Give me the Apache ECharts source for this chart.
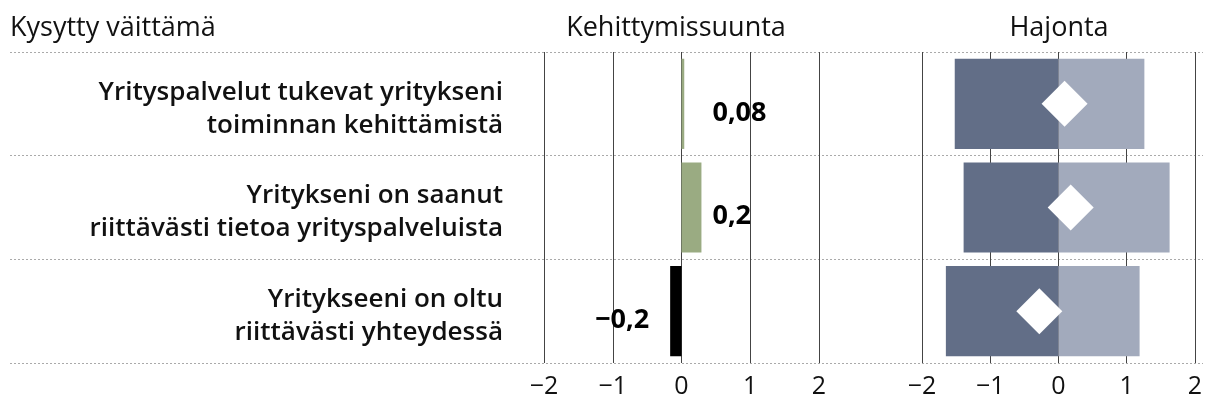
<!DOCTYPE html>
<html>
<head>
<meta charset="utf-8">
<script src="https://cdn.jsdelivr.net/npm/echarts@6/dist/echarts.min.js"></script>
<style>
  html, body { margin: 0; padding: 0; background: #fff; }
  #chart { width: 1205px; height: 406px; }
</style>
</head>
<body>
<div id="chart"></div>
<script>
    var categories = [
        "Yrityspalvelut tukevat yritykseni\ntoiminnan kehittämistä",
        "Yritykseni on saanut\nriittävästi tietoa yrityspalveluista",
        "Yritykseeni on oltu\nriittävästi yhteydessä"
    ];
    // kehittymissuunta (bar lengths as drawn) and printed labels
    var trendValues = [0.04, 0.29, -0.165];
    var trendLabels = ["0,08", "0,2", "−0,2"];
    // hajonta: low end, high end, diamond (mean)
    var spreadLow = [-1.52, -1.39, -1.65];
    var spreadHigh = [1.26, 1.63, 1.19];
    var spreadMean = [0.09, 0.18, -0.28];
    var tickMin = -2, tickMax = 2, tickStep = 1;

    var font = "Open Sans";
    var minus = function (v) { return String(v).replace("-", "−"); };

    var chart = echarts.init(document.getElementById("chart"));

    var valueAxis = function (gridIndex) {
        return {
            gridIndex: gridIndex,
            type: "value",
            min: tickMin,
            max: tickMax,
            interval: tickStep,
            axisLine: { show: false },
            axisTick: { show: false },
            axisLabel: {
                margin: 11,
                fontFamily: font,
                fontSize: 25,
                color: "#111",
                formatter: minus
            },
            splitLine: { show: true, lineStyle: { color: "#444", width: 1 } }
        };
    };

    var option = {
        animation: false,
        backgroundColor: "#fff",
        grid: [
            { left: 544, width: 275, top: 52, height: 311 },
            { left: 922, width: 275, top: 52, height: 311 },
            { left: 10, right: 2, top: 52, height: 311 },
            // label column, nudged down a little
            { left: 544, width: 1, top: 57, height: 311 }
        ],
        xAxis: [
            valueAxis(0),
            valueAxis(1),
            { gridIndex: 2, type: "value", show: false },
            { gridIndex: 3, type: "value", show: false }
        ],
        yAxis: [
            {
                gridIndex: 0,
                type: "category",
                inverse: true,
                data: categories,
                show: false
            },
            {
                gridIndex: 1,
                type: "category",
                inverse: true,
                data: categories,
                show: false
            },
            {
                gridIndex: 2,
                type: "category",
                inverse: true,
                data: categories,
                axisLine: { show: false },
                axisTick: { show: false },
                axisLabel: { show: false },
                splitLine: {
                    show: true,
                    lineStyle: { color: "#aaa", width: 1, type: [2, 2] }
                }
            },
            {
                gridIndex: 3,
                type: "category",
                inverse: true,
                data: categories,
                axisLine: { show: false },
                axisTick: { show: false },
                splitLine: { show: false },
                axisLabel: {
                    margin: 41,
                    fontFamily: font,
                    fontWeight: 600,
                    fontSize: 26,
                    lineHeight: 33,
                    color: "#111",
                    align: "right"
                }
            }
        ],
        graphic: [
            { type: "text", left: 10, top: 15, style: { text: "Kysytty väittämä", font: "27px 'Open Sans'", fill: "#111" } },
            { type: "text", x: 676, y: 15, style: { text: "Kehittymissuunta", font: "27px 'Open Sans'", fill: "#111", textAlign: "center" } },
            { type: "text", x: 1059, y: 15, style: { text: "Hajonta", font: "27px 'Open Sans'", fill: "#111", textAlign: "center" } }
        ],
        series: [
            {
                type: "bar",
                xAxisIndex: 0,
                yAxisIndex: 0,
                barWidth: "87%",
                data: trendValues.map(function (v) {
                    return { value: v, itemStyle: { color: v >= 0 ? "#9aab82" : "#000" } };
                })
            },
            {
                type: "scatter",
                xAxisIndex: 0,
                yAxisIndex: 0,
                symbolSize: 0,
                silent: true,
                itemStyle: { opacity: 1 },
                data: trendValues.map(function (v, i) {
                    return {
                        value: [v >= 0 ? 0.45 : -0.47, i],
                        label: {
                            show: true,
                            position: v >= 0 ? "right" : "left",
                            distance: 0,
                            offset: [0, 9],
                            formatter: trendLabels[i],
                            fontFamily: font,
                            fontWeight: "bold",
                            fontSize: 27,
                            color: "#000"
                        }
                    };
                })
            },
            {
                type: "bar",
                xAxisIndex: 1,
                yAxisIndex: 1,
                barWidth: "87%",
                barGap: "-100%",
                itemStyle: { color: "#626e87" },
                data: spreadLow
            },
            {
                type: "bar",
                xAxisIndex: 1,
                yAxisIndex: 1,
                barWidth: "87%",
                barGap: "-100%",
                itemStyle: { color: "#a2aabc" },
                data: spreadHigh
            },
            {
                type: "scatter",
                xAxisIndex: 1,
                yAxisIndex: 1,
                symbol: "diamond",
                symbolSize: 46,
                itemStyle: { color: "#fff", opacity: 1 },
                z: 5,
                data: spreadMean.map(function (v, i) { return [v, i]; })
            }
        ]
    };

    chart.setOption(option);
</script>
</body>
</html>
